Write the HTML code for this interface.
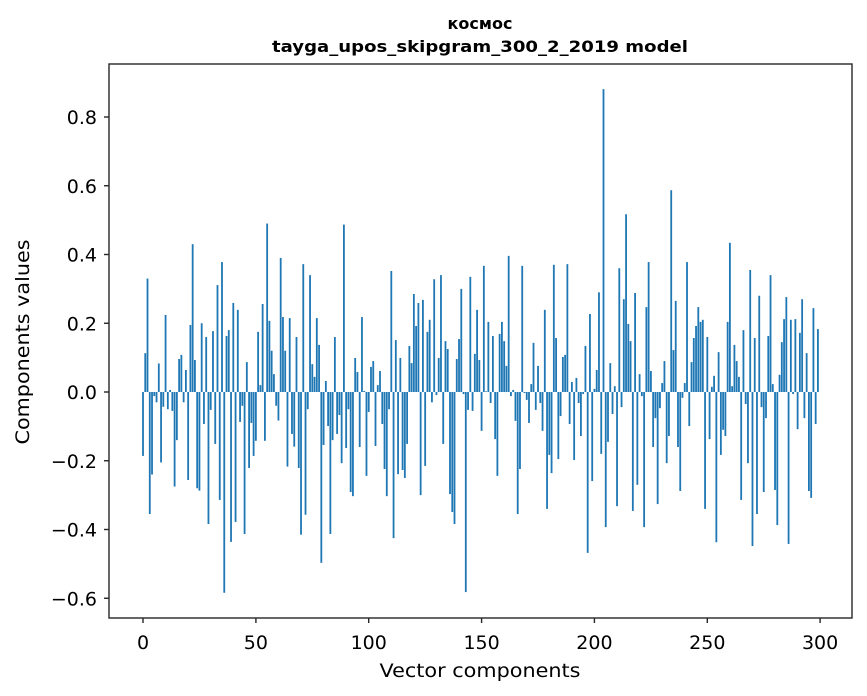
<!DOCTYPE html>
<html><head><meta charset="utf-8"><style>
html,body{margin:0;padding:0;background:#fff;}
svg{display:block;font-family:"DejaVu Sans","Liberation Sans",sans-serif;}
</style></head><body>
<svg id="s" width="867" height="696" viewBox="0 0 867 696" xmlns="http://www.w3.org/2000/svg">
<rect width="867" height="696" fill="#fff"/>
<text x="480" y="29" text-anchor="middle" font-size="16" font-weight="bold">космос</text>
<text x="480" y="52" text-anchor="middle" font-size="16" font-weight="bold" textLength="416" lengthAdjust="spacingAndGlyphs">tayga_upos_skipgram_300_2_2019 model</text>
<g id="bars" fill="#1f77b4"></g>
<rect x="109" y="64" width="743" height="554" fill="none" stroke="#262626" stroke-width="1.4"/>
<g stroke="#262626" stroke-width="1.4">
<line x1="143" y1="618" x2="143" y2="623"/><line x1="255.9" y1="618" x2="255.9" y2="623"/><line x1="368.7" y1="618" x2="368.7" y2="623"/><line x1="481.6" y1="618" x2="481.6" y2="623"/><line x1="594.4" y1="618" x2="594.4" y2="623"/><line x1="707.3" y1="618" x2="707.3" y2="623"/><line x1="820.1" y1="618" x2="820.1" y2="623"/>
<line x1="104" y1="117" x2="109" y2="117"/><line x1="104" y1="185.75" x2="109" y2="185.75"/><line x1="104" y1="254.5" x2="109" y2="254.5"/><line x1="104" y1="323.25" x2="109" y2="323.25"/><line x1="104" y1="392" x2="109" y2="392"/><line x1="104" y1="460.75" x2="109" y2="460.75"/><line x1="104" y1="529.5" x2="109" y2="529.5"/><line x1="104" y1="598.25" x2="109" y2="598.25"/>
</g>
<g font-size="19" text-anchor="middle" fill="#000">
<text x="143" y="649">0</text><text x="255.9" y="649">50</text><text x="368.7" y="649">100</text><text x="481.6" y="649">150</text><text x="594.4" y="649">200</text><text x="707.3" y="649">250</text><text x="820.1" y="649">300</text>
</g>
<g font-size="19" text-anchor="end">
<text x="97" y="124">0.8</text><text x="97" y="192.75">0.6</text><text x="97" y="261.5">0.4</text><text x="97" y="330.25">0.2</text><text x="97" y="399">0.0</text><text x="97" y="467.75">−0.2</text><text x="97" y="536.5">−0.4</text><text x="97" y="605.25">−0.6</text>
</g>
<text x="480" y="677" text-anchor="middle" font-size="19" textLength="201" lengthAdjust="spacingAndGlyphs">Vector components</text>
<text transform="translate(29,342) rotate(-90)" text-anchor="middle" font-size="19" textLength="205" lengthAdjust="spacingAndGlyphs">Components values</text>
</svg>
<script>
var v=[-0.186,0.113,0.33,-0.355,-0.24,-0.012,-0.03,0.083,-0.205,-0.043,0.224,-0.05,0.006,-0.055,-0.275,-0.14,0.096,0.108,-0.03,0.064,-0.256,0.195,0.43,0.093,-0.28,-0.287,0.2,-0.093,0.16,-0.384,-0.052,0.177,-0.151,0.311,-0.314,0.378,-0.584,0.163,0.18,-0.436,0.259,-0.378,0.239,-0.087,-0.04,-0.413,0.087,-0.221,-0.09,-0.186,
-0.142,0.175,0.02,0.256,-0.142,0.49,0.207,0.12,0.052,-0.04,-0.083,0.39,0.218,0.12,-0.217,0.215,-0.122,-0.159,0.16,-0.221,-0.415,0.372,-0.357,-0.05,0.34,0.081,0.044,0.215,0.137,-0.497,-0.154,0.032,-0.099,-0.413,-0.14,0.16,-0.122,-0.067,-0.207,0.487,-0.163,-0.05,-0.291,-0.303,0.099,0.058,-0.16,0.218,0.003,-0.244,
-0.058,0.073,0.09,-0.157,0.02,0.061,-0.093,-0.224,-0.303,-0.05,0.352,-0.425,0.151,-0.239,0.099,-0.227,-0.25,-0.151,0.134,0.084,0.285,0.192,0.259,-0.3,0.268,-0.215,0.175,0.21,-0.03,0.328,-0.009,0.099,0.34,-0.151,0.148,0.125,-0.297,-0.349,-0.384,0.096,0.154,0.3,-0.006,-0.582,-0.052,0.335,-0.055,0.111,0.239,0.093,
-0.113,0.367,0.002,0.204,-0.032,0.163,-0.137,-0.244,0.169,0.204,0.148,0.076,0.396,-0.012,0.006,-0.084,-0.355,-0.224,0.367,-0.003,-0.023,-0.09,0.023,0.143,-0.052,0.076,-0.032,-0.113,0.239,-0.34,-0.183,-0.236,0.37,0.157,-0.195,-0.07,0.102,0.108,0.372,-0.093,0.029,-0.198,0.041,-0.032,-0.128,-0.006,0.134,-0.468,0.227,-0.259,
0.009,0.064,0.29,-0.18,0.881,-0.393,-0.145,0.084,-0.064,0.017,-0.332,0.36,-0.044,0.27,0.517,0.198,0.148,-0.346,0.288,-0.27,0.052,-0.012,-0.393,0.247,0.378,0.061,-0.16,-0.076,-0.326,-0.047,0.026,0.09,-0.207,-0.128,0.587,0.122,0.265,-0.16,-0.288,-0.017,0.026,0.378,-0.099,0.087,0.157,0.192,0.247,0.204,0.21,-0.34,
0.16,-0.137,0.015,0.047,-0.437,0.116,-0.183,-0.11,-0.128,0.204,0.434,0.017,0.137,0.09,0.044,-0.314,0.18,-0.035,-0.207,0.355,-0.448,0.157,-0.355,0.28,-0.044,-0.291,-0.076,0.163,0.34,0.023,-0.285,-0.387,0.05,0.145,0.212,0.276,-0.442,0.21,-0.006,0.212,-0.108,0.172,0.27,-0.076,0.113,-0.288,-0.308,0.244,-0.093,0.183];
var g=document.getElementById('bars'),s='';
for(var i=0;i<v.length;i++){var x=143+2.2573*i-0.903,h=v[i]*343.75,y=h>0?392-h:392;
s+='<rect x="'+x.toFixed(2)+'" y="'+y.toFixed(2)+'" width="1.806" height="'+Math.abs(h).toFixed(2)+'"/>';}
g.innerHTML=s;
</script>
</body></html>
